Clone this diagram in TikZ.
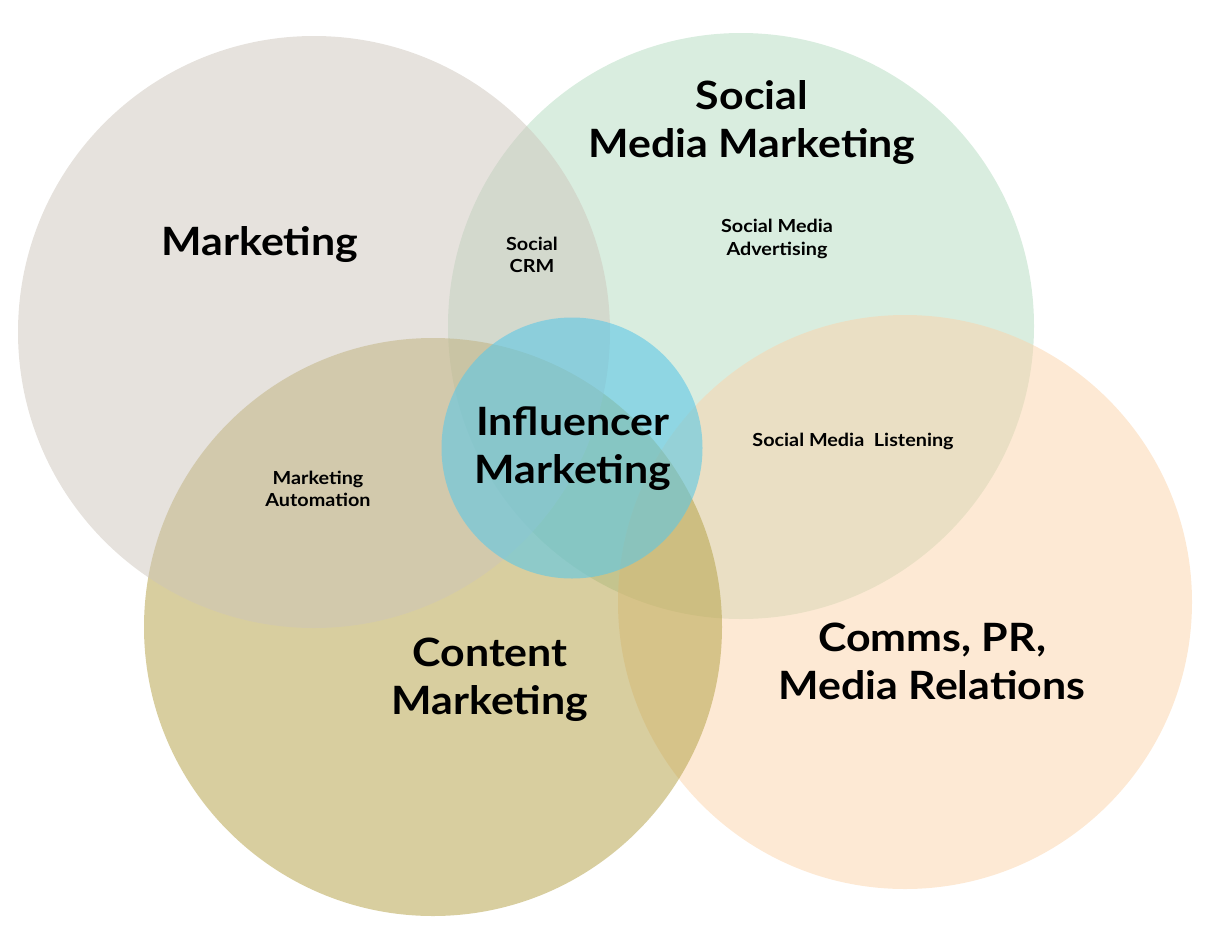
\documentclass[tikz,border=0pt]{standalone}
\usepackage{fontspec}
\setmainfont{Lato}[FakeStretch=1.1]
\usepackage{tikz}

\definecolor{vertsocial}{RGB}{179,219,191}
\definecolor{pechecomms}{RGB}{251,211,169}
\definecolor{olivecontenu}{RGB}{177,157,63}
\definecolor{grismarketing}{RGB}{205,197,187}
\definecolor{bleuinfluence}{RGB}{94,200,230}

\begin{document}
\begin{tikzpicture}[x=1pt,y=-1pt,
    cercle/.style={circle,inner sep=0pt,fill opacity=.5,text opacity=1},
    grand/.style={align=center,font=\bfseries\fontsize{39}{48}\selectfont},
    petit/.style={align=center,font=\bfseries\fontsize{18}{22.5}\selectfont}]
    \useasboundingbox (0,0) rectangle (1211,930);

    % Les cercles (du fond vers le devant)
    \node[cercle,fill=vertsocial,minimum size=586pt] (social) at (741,326) {};
    \node[cercle,fill=pechecomms,minimum size=574pt] (comms) at (905,602) {};
    \node[cercle,fill=olivecontenu,minimum size=578pt] (contenu) at (433,627) {};
    \node[cercle,fill=grismarketing,minimum size=592pt] (marketing) at (314,332) {};
    \node[cercle,fill=bleuinfluence,fill opacity=.6,minimum size=261pt] (influence) at (572,448) {};

    % Titres des cercles
    \node[grand] (tmarketing) at (260,245) {Marketing};
    \node[grand] (tsocial) at (752,123) {Social\\Media Marketing};
    \node[grand] (tinfluence) at (573,449) {Influencer\\Marketing};
    \node[grand] (tcontenu) at (490,680) {Content\\Marketing};
    \node[grand] (tcomms) at (932,661) {Comms, PR,\\Media Relations};

    % Intersections
    \node[petit] (crm) at (532,255) {Social\\CRM};
    \node[petit] (pub) at (777,239) {Social Media\\Advertising};
    \node[petit] (ecoute) at (853,441) {Social Media\ \ Listening};
    \node[petit] (automation) at (318,489) {Marketing\\Automation};
\end{tikzpicture}
\end{document}
